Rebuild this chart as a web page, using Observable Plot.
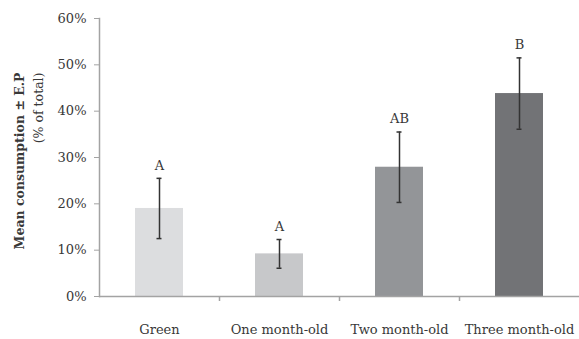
<!DOCTYPE html>
<html>
<head>
<meta charset="utf-8">
<script src="https://cdn.jsdelivr.net/npm/d3@7"></script>
<script src="https://cdn.jsdelivr.net/npm/@observablehq/plot@0.6"></script>
<style>
  html, body { margin: 0; padding: 0; background: white; }
</style>
</head>
<body>
<div id="chart"></div>
<script>
const categories = ["Green", "One month-old", "Two month-old", "Three month-old"];
const means = [0.19, 0.092, 0.279, 0.438];
const errors = [0.065, 0.031, 0.076, 0.077];
const letters = ["A", "A", "AB", "B"];
const barColors = ["#dcdddf", "#c7c8ca", "#939598", "#727376"];
const yTicks = [0, 0.1, 0.2, 0.3, 0.4, 0.5, 0.6];

const data = categories.map((c, i) => ({cat: c, m: means[i], e: errors[i], letter: letters[i]}));

const W = 579, H = 339, ML = 99, MR = 0, MT = 18, MB = 43;
const xOpts = {domain: categories, paddingInner: 0.6, paddingOuter: 0.3};
const xProbe = Plot.scale({x: {type: "band", ...xOpts, range: [ML, W - MR]}});
const half = xProbe.step / 2;
const capInset = (xProbe.bandwidth - 5) / 2;
const axisGray = "#a3a3a3";
const textColor = "#383838";

const chart = Plot.plot({
  width: W, height: H,
  marginLeft: ML, marginRight: MR, marginTop: MT, marginBottom: MB,
  style: {fontFamily: "'DejaVu Serif', serif", fontSize: "13px", color: textColor, background: "white"},
  x: {...xOpts, axis: null, label: null},
  y: {domain: [0, 0.6], axis: null, label: null},
  color: {domain: categories, range: barColors},
  marks: [
    Plot.barY(data, {x: "cat", y: "m", fill: "cat"}),
    Plot.ruleY([0], {stroke: axisGray, strokeWidth: 1.5}),
    Plot.frame({anchor: "left", stroke: axisGray, strokeWidth: 1.5}),
    Plot.axisY({ticks: yTicks, tickFormat: d3.format(".0%"), tickSize: 5, tickPadding: 8, stroke: axisGray, fill: textColor, fontSize: 13, label: null}),
    Plot.axisX({tickSize: 0, tickPadding: 28, fill: textColor, fontSize: 13, label: null}),
    Plot.axisX({ticks: categories.slice(1), tickSize: 5, tickFormat: () => "", dx: -half, stroke: axisGray, strokeWidth: 1.5, label: null}),
    Plot.ruleX(data, {x: "cat", y1: d => d.m - d.e, y2: d => d.m + d.e, stroke: "#333", strokeWidth: 1.5}),
    Plot.tickY(data, {x: "cat", y: d => d.m - d.e, stroke: "#333", strokeWidth: 1.5, insetLeft: capInset, insetRight: capInset}),
    Plot.tickY(data, {x: "cat", y: d => d.m + d.e, stroke: "#333", strokeWidth: 1.5, insetLeft: capInset, insetRight: capInset}),
    Plot.text(data, {x: "cat", y: d => d.m + d.e, text: "letter", dy: -13, fill: textColor, fontSize: 13}),
    Plot.text(["Mean consumption ± E.P"], {frameAnchor: "left", rotate: -90, textAnchor: "end", dx: -80, dy: -85, fontWeight: "bold", fontSize: 12.5, fill: textColor}),
    Plot.text(["(% of total)"], {frameAnchor: "left", rotate: -90, textAnchor: "end", dx: -61, dy: -85, fontSize: 12.5, fill: textColor})
  ]
});
document.getElementById("chart").appendChild(chart);
</script>
</body>
</html>
